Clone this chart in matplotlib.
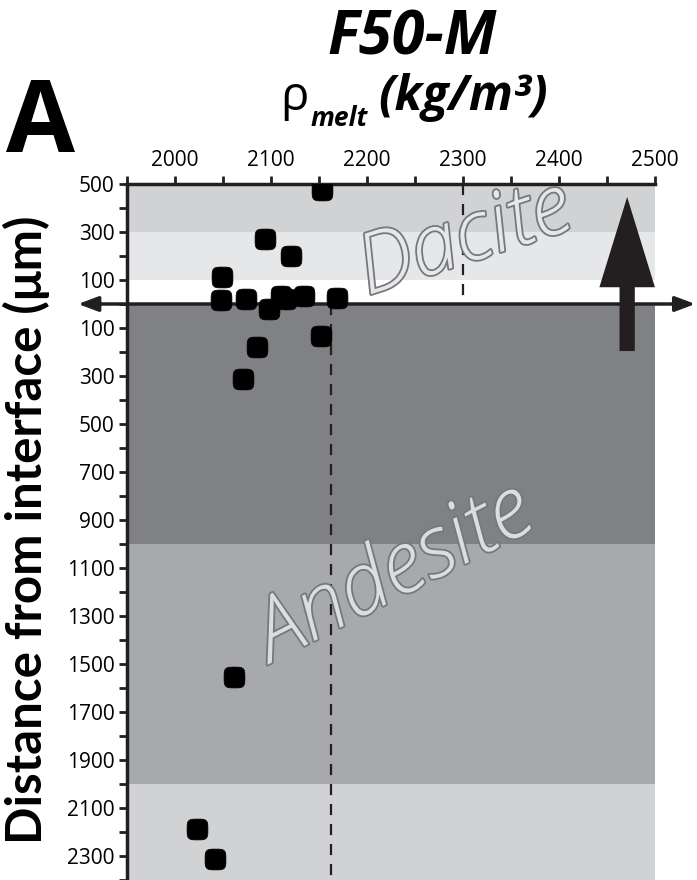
import numpy as np
import matplotlib
matplotlib.use("Agg")
import matplotlib.pyplot as plt
import matplotlib.patheffects as pe
from matplotlib.patches import FancyArrowPatch
from matplotlib.path import Path

plt.rcParams["font.family"] = ["Open Sans", "DejaVu Sans"]

# melt density (kg/m3) vs signed distance from interface (um, dacite side positive)
rho = [2153, 2094, 2121, 2049, 2048, 2074, 2098, 2110, 2116, 2134, 2169,
       2152, 2085, 2071, 2061, 2023, 2042]
dist = [475, 271, 201, 114, 17, 20, -21, 33, 20, 33, 24,
        -132, -178, -312, -1555, -2189, -2314]

# background bands: (top, bottom, colour)
bands = [(500, 300, "#d1d2d4"), (300, 100, "#e6e7e8"), (100, 0, "#ffffff"),
         (0, -1000, "#808184"), (-1000, -2000, "#a7a9ac"), (-2000, -2400, "#d1d2d4")]

rho_andesite = 2163
rho_dacite = 2300

yticks = [500, 300, 100] + list(range(-100, -2400, -200))
ytick_labels = [str(abs(v)) for v in yticks]
xticks = [2000, 2100, 2200, 2300, 2400, 2500]

# rounded-square marker (superellipse)
t = np.linspace(0, 2*np.pi, 80)
sx = np.sign(np.cos(t)) * np.abs(np.cos(t)) ** 0.5
sy = np.sign(np.sin(t)) * np.abs(np.sin(t)) ** 0.5
squircle = Path(np.column_stack([sx, sy]), closed=True)

fig = plt.figure(figsize=(6.97, 8.8), dpi=100)
ax = fig.add_axes([127/697, 0, 528/697, 1 - 184/880])
ax.set_xlim(1950, 2500)
ax.set_ylim(-2400, 500)

for top, bot, c in bands:
    ax.axhspan(bot, top, color=c, lw=0, zorder=0)

ax.plot([rho_andesite, rho_andesite], [0, -2400], ls=(0, (5, 4)), color="#231f20", lw=1.6, zorder=2)
ax.plot([rho_dacite, rho_dacite], [500, 0], ls=(0, (5, 4)), color="#231f20", lw=1.6, zorder=2)

ax.plot(rho, dist, ls="none", marker=squircle, ms=15, mfc="black", mec="black", mew=0.5, zorder=5)

# interface line with arrowheads
ax.annotate("", xy=(1899, 0), xytext=(2542, 0), xycoords="data",
            arrowprops=dict(arrowstyle="<|-|>,head_length=1.2,head_width=0.45",
                            color="#231f20", lw=2.5, shrinkA=0, shrinkB=0),
            annotation_clip=False, zorder=4)

# big upward arrow
arr = FancyArrowPatch((2471, -196), (2471, 446),
                      arrowstyle="simple,head_length=6.5,head_width=4.0,tail_width=1.1",
                      mutation_scale=10, color="#231f20", lw=0, shrinkA=0, shrinkB=0, zorder=6)
ax.add_patch(arr)

outline = [pe.withStroke(linewidth=2.6, foreground="#77787b")]
ax.text(2302, 262, "Dacite", rotation=18, fontsize=60, style="italic", fontweight="light",
        color="#e6e7e8", ha="center", va="center", path_effects=outline, zorder=3)
ax.text(2229, -1130, "Andesite", rotation=27, fontsize=62, style="italic", fontweight="light",
        color="#dcdddf", ha="center", va="center", path_effects=outline, zorder=3)

ax.xaxis.tick_top()
ax.set_xticks(xticks)
ax.set_xticks(np.arange(1950, 2501, 100), minor=True)
ax.set_yticks(yticks)
ax.set_yticklabels(ytick_labels)
ax.set_yticks(list(range(400, -2401, -200)), minor=True)
ax.tick_params(which="both", direction="out", length=6, width=2, color="#231f20",
               labelsize=15, pad=3)
ax.tick_params(axis="x", which="both", top=True, bottom=False)
ax.tick_params(axis="y", which="both", left=True, right=False)

for s in ["right", "bottom"]:
    ax.spines[s].set_visible(False)
for s in ["top", "left"]:
    ax.spines[s].set_linewidth(2.5)
    ax.spines[s].set_color("#231f20")

fig.text(26/697, 1 - 530/880, "Distance from interface (\u03bcm)", rotation=90,
         fontsize=35.5, fontweight="bold", ha="center", va="center",
         family=["Lato", "DejaVu Sans"])
fig.text(412/697, 1 - 39/880, "F50-M", fontsize=43, fontweight="bold", style="italic",
         ha="center", va="center")
fig.text(294/697, 1 - 97/880, "\u03c1", fontsize=34, ha="center", va="center")
fig.text(339/697, 1 - 118/880, "melt", fontsize=19, fontweight="bold", style="italic",
         ha="center", va="center")
fig.text(463/697, 1 - 97/880, "(kg/m\u00b3)", fontsize=35, fontweight="bold", style="italic",
         ha="center", va="center")
fig.text(41/697, 1 - 125/880, "A", fontsize=72, fontweight="bold", ha="center", va="center")

fig.savefig("out.png", dpi=100, facecolor="white")
